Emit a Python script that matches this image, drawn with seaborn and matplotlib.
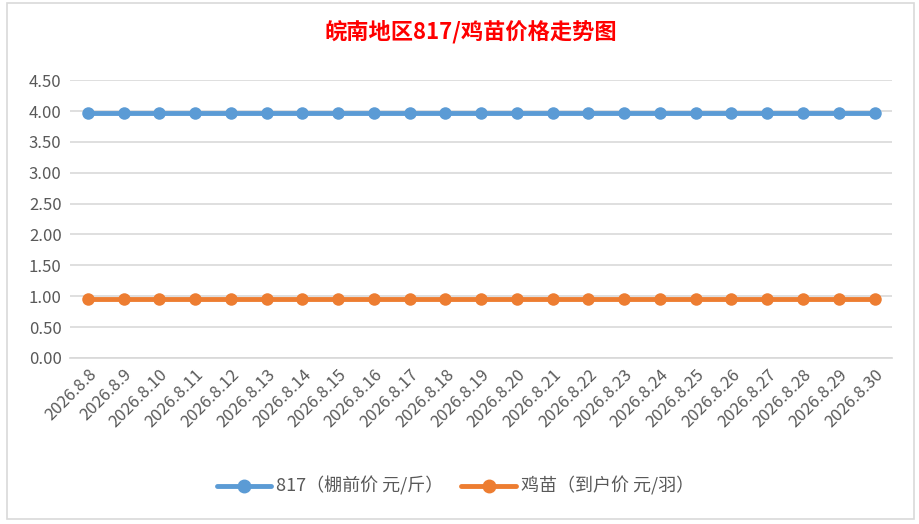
import pandas as pd
import numpy as np
import matplotlib
matplotlib.use("Agg")
import matplotlib.pyplot as plt
import seaborn as sns

sns.set_theme(style="white")
plt.rcParams["font.family"] = ["Noto Sans CJK SC", "DejaVu Sans"]

dates = ["2026.8.%d" % d for d in range(8, 31)]
price_817 = [3.96] * 23
price_chick = [0.96] * 23
series_names = ["817（棚前价 元/斤）", "鸡苗（到户价 元/羽）"]
colors = ["#5B9BD5", "#ED7D31"]

df = pd.DataFrame({
    "date": dates * 2,
    "price": price_817 + price_chick,
    "series": [series_names[0]] * len(dates) + [series_names[1]] * len(dates),
})
df["x"] = df["date"].map({d: i for i, d in enumerate(dates)})

fig = plt.figure(figsize=(9.2, 5.24), dpi=100)
ax = fig.add_axes([0.076, 0.317, 0.894, 0.530])

sns.lineplot(data=df, x="x", y="price", hue="series", palette=colors,
             marker="o", markersize=9, markeredgewidth=0, linewidth=3.5,
             ax=ax, legend=False)

ax.set_xlim(-0.5, len(dates) - 0.5)
ax.set_ylim(0, 4.5)
ax.set_yticks(np.arange(0, 4.51, 0.5))
ax.set_yticklabels(["%.2f" % v for v in np.arange(0, 4.51, 0.5)])
ax.set_xticks(range(len(dates)))
ax.set_xticklabels(dates, rotation=45, ha="right", rotation_mode="anchor")
ax.tick_params(axis="both", colors="#595959", labelsize=12, length=0, pad=6)
ax.yaxis.grid(True, color="#D9D9D9", linewidth=1.2)
for s in ax.spines.values():
    s.set_visible(False)
ax.spines["bottom"].set_visible(True)
ax.spines["bottom"].set_color("#D9D9D9")
ax.set_xlabel("")
ax.set_ylabel("")

fig.text(0.512, 0.94, "皖南地区817/鸡苗价格走势图", color="#FF0000",
         fontsize=16, fontweight="bold", ha="center", va="center")

handles = [plt.Line2D([], [], color=c, marker="o", markersize=9, linewidth=3.5)
           for c in colors]
fig.legend(handles, series_names, loc="center", bbox_to_anchor=(0.495, 0.072),
           ncol=2, frameon=False, fontsize=13, labelcolor="#595959",
           handlelength=3, columnspacing=1.0, handletextpad=0.3)

fig.patches.append(plt.Rectangle((0.008, 0.01), 0.985, 0.985, transform=fig.transFigure,
                                 fill=False, edgecolor="#D9D9D9", linewidth=1.2))

fig.savefig("out.png", dpi=100)
